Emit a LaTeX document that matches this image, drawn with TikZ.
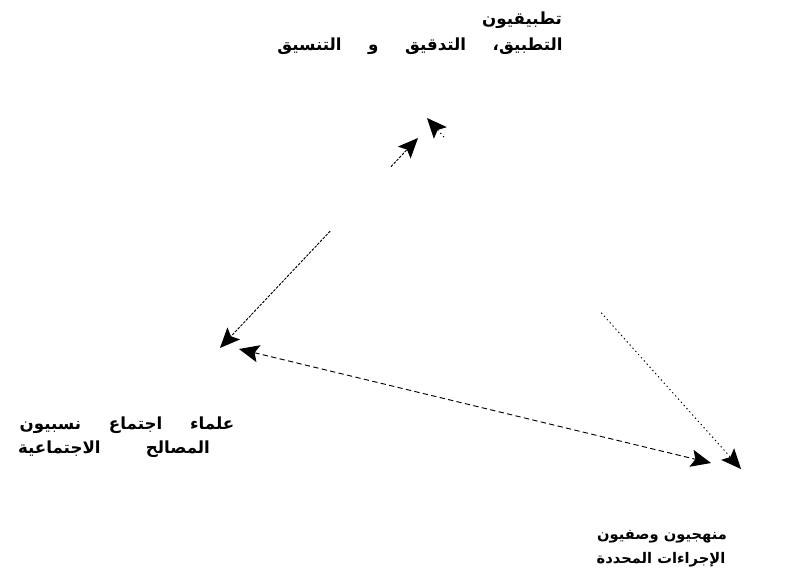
\documentclass[tikz,border=0pt]{standalone}
\usepackage{fontspec}
\newfontfamily\arabicfont[Script=Arabic]{DejaVu Sans}
\TeXXeTstate=1
\usetikzlibrary{arrows.meta}
\begin{document}
\begin{tikzpicture}[x=0.75pt,y=-0.75pt,
  lbl/.style={inner sep=0pt, font=\arabicfont\bfseries\fontsize{12.5}{14}\selectfont},
  lblsmall/.style={inner sep=0pt, font=\arabicfont\bfseries\fontsize{11}{13}\selectfont},
  headtip/.style={-{Stealth[length=15pt,width=13pt,inset=3pt]}},
  conn/.style={line width=0.7pt, headtip},
  dashmid/.style={dash pattern=on 4pt off 2.5pt},
  dashleft/.style={dash pattern=on 2pt off 1pt},
  dotright/.style={dash pattern=on 1pt off 2.2pt}]
\useasboundingbox (0,0) rectangle (794,577);
% labels
\node[lbl] (topA) at (522,20) {\beginR تطبيقيون\endR};
\node[lbl] (topB) at (420,46) {\makebox[214pt][s]{\beginR التطبيق، التدقيق و التنسيق\endR}};
\node[lbl] (blA) at (127,425) {\makebox[161pt][s]{\beginR علماء اجتماع نسبيون\endR}};
\node[lbl] (blB) at (114,449) {\makebox[144pt][s]{\beginR المصالح الاجتماعية\endR}};
\node[lblsmall] (brA) at (662,537) {\beginR منهجيون وصفيون\endR};
\node[lblsmall] (brB) at (661,560) {\beginR الإجراءات المحددة\endR};
% arrow ends
\coordinate (L1) at (220,348);
\coordinate (T1) at (418,138);
\coordinate (T2) at (427,118);
\coordinate (R2) at (741,469);
\coordinate (L3) at (239,349);
\coordinate (R3) at (711,463);
% left connector (top <-> bottom-left)
\draw[conn, dashleft, shorten <=96pt] (T1) -- (L1);
\draw[conn, dashleft, shorten <=187pt] (L1) -- (T1);
% right connector (top <-> bottom-right)
\draw[conn, dotright, shorten <=196pt] (T2) -- (R2);
\draw[conn, dotright, shorten <=334pt] (R2) -- (T2);
% middle connector
\draw[conn, dashmid, {Stealth[length=15pt,width=13pt,inset=3pt]}-{Stealth[length=15pt,width=13pt,inset=3pt]}] (L3) -- (R3);
\end{tikzpicture}
\end{document}
